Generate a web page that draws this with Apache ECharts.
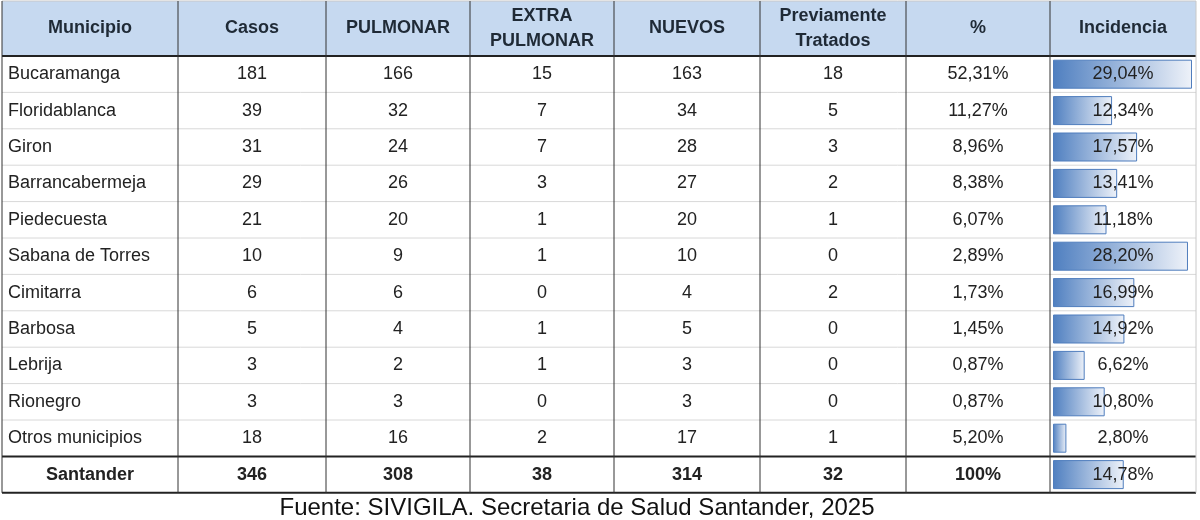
<!DOCTYPE html><html><head><meta charset="utf-8"><script src="https://cdn.jsdelivr.net/npm/echarts@6/dist/echarts.min.js"></script>
<style>body{margin:0;background:#fff}#c{width:1200px;height:520px}</style></head><body><div id="c"></div><script>
const headers=[["Municipio"],["Casos"],["PULMONAR"],["EXTRA","PULMONAR"],["NUEVOS"],["Previamente","Tratados"],["%"],["Incidencia"]];
const municipios=["Bucaramanga","Floridablanca","Giron","Barrancabermeja","Piedecuesta","Sabana de Torres","Cimitarra","Barbosa","Lebrija","Rionegro","Otros municipios","Santander"];
const casos=[181,39,31,29,21,10,6,5,3,3,18,346];
const pulmonar=[166,32,24,26,20,9,6,4,2,3,16,308];
const extra=[15,7,7,3,1,1,0,1,1,0,2,38];
const nuevos=[163,34,28,27,20,10,4,5,3,3,17,314];
const previos=[18,5,3,2,1,0,2,0,0,0,1,32];
const pct=["52,31%","11,27%","8,96%","8,38%","6,07%","2,89%","1,73%","1,45%","0,87%","0,87%","5,20%","100%"];
const incidencia=[29.04,12.34,17.57,13.41,11.18,28.20,16.99,14.92,6.62,10.80,2.80,14.78];
const fuente="Fuente: SIVIGILA. Secretaria de Salud Santander, 2025";

const colX=[2,178,326,470,614,760,906,1050,1196];
const top0=56,rowH=36.4,n=municipios.length,bottom=top0+rowH*n;
const g=[];
g.push({type:'rect',shape:{x:colX[0],y:1,width:colX[8]-colX[0],height:top0-1},style:{fill:'#c6d9f0'},z:1});
headers.forEach((h,i)=>{const cx=(colX[i]+colX[i+1])/2;
 h.forEach((t,k)=>g.push({type:'text',x:cx,y:h.length==1?28:16+k*25,style:{text:t,fill:'#1f2a36',font:'bold 18px "Liberation Sans", Arial',align:'center',verticalAlign:'middle'},z:100}));});
for(let r=0;r<n;r++){
 const cy=top0+rowH*(r+0.5), last=r==n-1;
 const vals=[municipios[r],casos[r],pulmonar[r],extra[r],nuevos[r],previos[r],pct[r],incidencia[r].toFixed(2).replace('.',',')+'%'];
 vals.forEach((v,i)=>{const left=(i==0&&!last);
  const f=((last&&i<7)?'bold ':'')+'18px "Liberation Sans", Arial';
  g.push({type:'text',x:left?colX[0]+6:(colX[i]+colX[i+1])/2,y:cy,style:{text:String(v),fill:'#222',font:f,align:left?'left':'center',verticalAlign:'middle'},z:100});});
 if(r>0&&r<n-1)g.push({type:'line',shape:{x1:colX[0],y1:top0+rowH*r,x2:colX[8],y2:top0+rowH*r},style:{stroke:'#d8d8d8',lineWidth:1},z:50});
}
[[top0,2],[top0+rowH*(n-1),2],[bottom,2],[1,1]].forEach(([y,w])=>g.push({type:'line',shape:{x1:colX[0],y1:y,x2:colX[8],y2:y},style:{stroke:w==1?'#c8c8c8':'#222',lineWidth:w},z:60}));
colX.forEach((x,i)=>g.push({type:'line',shape:{x1:x,y1:1,x2:x,y2:bottom},style:{stroke:i==8?'#c8c8c8':'#333',lineWidth:1},z:60}));
g.push({type:'text',x:577,y:508,style:{text:fuente,fill:'#111',font:'24px "Liberation Sans", Arial',align:'center',verticalAlign:'middle'},z:100});

const chart=echarts.init(document.getElementById('c'));
chart.setOption({animation:false,
 grid:{left:1053,width:139,top:top0,height:rowH*n},
 xAxis:{type:'value',min:0,max:29.04,show:false},
 yAxis:{type:'category',data:municipios,inverse:true,show:false},
 series:[{type:'bar',data:incidencia,barWidth:29,z:10,
  itemStyle:{borderColor:'#4f7dbd',borderWidth:1,color:new echarts.graphic.LinearGradient(0,0,1,0,[{offset:0,color:'#4f7fc0'},{offset:1,color:'#eef2f9'}])}}],
 graphic:g});
</script></body></html>
